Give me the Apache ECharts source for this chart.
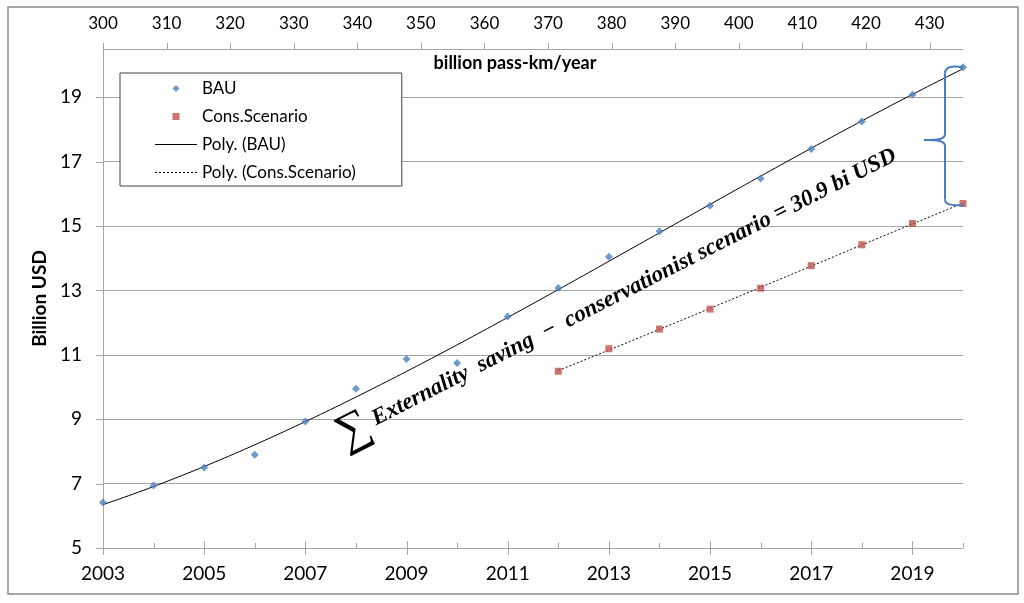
<!DOCTYPE html>
<html><head><meta charset="utf-8">
<script src="https://cdn.jsdelivr.net/npm/echarts/dist/echarts.min.js"></script>
<style>html,body{margin:0;padding:0;background:#fff}#c{width:1024px;height:603px}</style>
</head><body><div id="c"></div>
<script>
// ---- data ----
const years = [2003,2004,2005,2006,2007,2008,2009,2010,2011,2012,2013,2014,2015,2016,2017,2018,2019,2020];
const bau = [6.41,6.94,7.50,7.90,8.93,9.95,10.87,10.75,12.19,13.08,14.05,14.84,15.63,16.48,17.39,18.25,19.08,19.93];
const consYears = [2012,2013,2014,2015,2016,2017,2018,2019,2020];
const cons = [10.49,11.19,11.80,12.42,13.07,13.77,14.42,15.08,15.70];
const bottomTickLabels = ['2003','2005','2007','2009','2011','2013','2015','2017','2019'];
const topTickLabels = ['300','310','320','330','340','350','360','370','380','390','400','410','420','430'];
const yTickLabels = ['5','7','9','11','13','15','17','19'];
const seriesNames = ['BAU','Cons.Scenario','Poly. (BAU)','Poly. (Cons.Scenario)'];
const annotation = 'Externality  saving  \u2212  conservationist scenario = 30.9 bi USD';
const topAxisName = 'billion pass-km/year';
const yAxisName = 'Billion USD';
const topAxisMax = 435.26; // pass-km value at the right edge of the plot

// least-squares polynomial trendline (Excel "Poly." trendline) of a series
function polyFit(xs, ys, order) {
  const n = order + 1, x0 = xs[0];
  const M = [];
  for (let r = 0; r < n; r++) M.push(new Array(n + 1).fill(0));
  xs.forEach((x, i) => {
    const t = x - x0;
    for (let r = 0; r < n; r++) {
      for (let c = 0; c < n; c++) M[r][c] += Math.pow(t, r + c);
      M[r][n] += ys[i] * Math.pow(t, r);
    }
  });
  for (let i = 0; i < n; i++) {
    for (let j = i + 1; j < n; j++) {
      const f = M[j][i] / M[i][i];
      for (let k = i; k <= n; k++) M[j][k] -= f * M[i][k];
    }
  }
  const c = new Array(n).fill(0);
  for (let i = n - 1; i >= 0; i--) {
    let s = M[i][n];
    for (let k = i + 1; k < n; k++) s -= M[i][k] * c[k];
    c[i] = s / M[i][i];
  }
  const out = [];
  const first = xs[0], last = xs[xs.length - 1];
  for (let x = first; x <= last + 1e-9; x += 0.1) {
    const t = x - x0;
    let v = 0;
    for (let k = 0; k < n; k++) v += c[k] * Math.pow(t, k);
    out.push([+x.toFixed(2), v]);
  }
  return out;
}

function dottedIcon(w, dash, gap) {
  let d = '';
  for (let x = 0; x < w; x += dash + gap) {
    const e = Math.min(x + dash, w);
    d += `M${x},0 L${e},0 L${e},1 L${x},1 Z `;
  }
  return 'path://' + d.trim();
}

const FONT = 'Lato, "Open Sans", sans-serif';
const SERIF = '"Liberation Serif", "DejaVu Serif", serif';
const chart = echarts.init(document.getElementById('c'), null, {renderer: 'canvas'});
const gridColor = '#a6a6a6';

chart.setOption({
  animation: false,
  backgroundColor: '#fff',
  textStyle: {fontFamily: FONT},
  grid: {left: 103, right: 61, top: 49, bottom: 55},
  legend: {
    orient: 'vertical',
    left: 120, top: 73,
    padding: [6, 46, 4, 35],
    itemWidth: 42, itemHeight: 7, itemGap: 9,
    borderColor: '#404040', borderWidth: 1,
    backgroundColor: '#fff',
    textStyle: {fontFamily: FONT, fontSize: 17, color: '#000', lineHeight: 19},
    data: [
      {name: seriesNames[0], icon: 'path://M5,0 L10,5 L5,10 L0,5 Z'},
      {name: seriesNames[1], icon: 'path://M0,0 L10,0 L10,10 L0,10 Z'},
      {name: seriesNames[2], icon: 'path://M0,0 L42,0 L42,1 L0,1 Z', itemStyle: {color: '#000'}},
      {name: seriesNames[3], icon: dottedIcon(42, 2, 2), itemStyle: {color: '#000'}}
    ]
  },
  xAxis: [
    {
      type: 'value', min: 2003, max: 2020, interval: 1,
      axisLine: {onZero: false, lineStyle: {color: gridColor}},
      axisTick: {show: false},
      splitLine: {show: false},
      axisLabel: {
        margin: 16, fontSize: 19, color: '#000', fontFamily: FONT,
        formatter: v => bottomTickLabels.indexOf(String(v)) >= 0 ? String(v) : ''
      }
    },
    {
      type: 'value', position: 'top', min: 300, max: topAxisMax, interval: 10,
      axisLine: {onZero: false, lineStyle: {color: gridColor}},
      axisTick: {show: false},
      splitLine: {show: false},
      axisLabel: {
        margin: 17, fontSize: 17, color: '#000', fontFamily: FONT,
        showMaxLabel: false,
        formatter: v => topTickLabels.indexOf(String(v)) >= 0 ? String(v) : ''
      }
    }
  ],
  yAxis: {
    type: 'value', min: 5, max: 20.5, interval: 2,
    name: yAxisName, nameLocation: 'middle', nameGap: 48,
    nameTextStyle: {fontFamily: FONT, fontWeight: 'bold', fontSize: 19, color: '#000'},
    axisLine: {show: true, onZero: false, lineStyle: {color: gridColor}},
    axisTick: {show: false},
    splitLine: {show: true, lineStyle: {color: gridColor, width: 1}},
    axisLabel: {
      margin: 21, fontSize: 19, color: '#000', fontFamily: FONT,
      formatter: v => yTickLabels.indexOf(String(v)) >= 0 ? String(v) : ''
    }
  },
  series: [
    {
      name: seriesNames[0], type: 'scatter', xAxisIndex: 0,
      symbol: 'diamond', symbolSize: 8, z: 5,
      itemStyle: {color: '#4f81bd'},
      data: years.map((y, i) => [y, bau[i]])
    },
    {
      name: seriesNames[1], type: 'scatter', xAxisIndex: 0,
      symbol: 'rect', symbolSize: 7, z: 5,
      itemStyle: {color: '#c0504d'},
      data: consYears.map((y, i) => [y, cons[i]])
    },
    {
      name: seriesNames[2], type: 'line', xAxisIndex: 0,
      symbol: 'none', z: 3, silent: true,
      lineStyle: {color: '#000', width: 1, type: 'solid'},
      itemStyle: {color: '#000'},
      data: polyFit(years, bau, 3)
    },
    {
      name: seriesNames[3], type: 'line', xAxisIndex: 0,
      symbol: 'none', z: 3, silent: true,
      lineStyle: {color: '#000', width: 1, type: [2, 2]},
      itemStyle: {color: '#000'},
      data: polyFit(consYears, cons, 3)
    }
  ]
});

function decorate() {
  const g = [];
  const P = v => chart.convertToPixel({xAxisIndex: 0, yAxisIndex: 0}, v);
  const base = P([2003, 5]);
  const topY = P([2003, 20.5])[1];
  const tick = (x1, y1, x2, y2) => g.push({type: 'line', silent: true, z: 10,
    shape: {x1: x1, y1: y1, x2: x2, y2: y2}, style: {stroke: gridColor, lineWidth: 1}});
  // bottom axis ticks: labelled years cross the axis, the others are short and inside
  years.forEach(y => {
    const major = bottomTickLabels.indexOf(String(y)) >= 0;
    const x = Math.round(P([y, 5])[0]) + 0.5;
    tick(x, base[1] + (major ? 7 : 0), x, base[1] - (major ? 7 : 5));
  });
  // top axis ticks (outside, upward)
  topTickLabels.forEach(v => {
    const x = Math.round(chart.convertToPixel({xAxisIndex: 1}, +v)) + 0.5;
    tick(x, topY, x, topY - 6);
  });
  // left axis ticks (outside)
  yTickLabels.forEach(v => {
    const y = Math.round(P([2003, +v])[1]) + 0.5;
    tick(base[0] - 7, y, base[0], y);
  });
  // brace between the 2020 values
  const p1 = P([2020, bau[bau.length - 1]]);
  const p2 = P([2020, cons[cons.length - 1]]);
  const x0 = p1[0], bx = x0 - 18, tip = x0 - 39;
  const y1 = p1[1], y2 = p2[1] + 1, ym = y1 + 0.53 * (y2 - y1);
  const bs = {fill: null, stroke: '#4a7ebb', lineWidth: 2};
  const bz = (a, c1, c2, b) => ({type: 'bezierCurve', silent: true, z: 10,
    shape: {x1: a[0], y1: a[1], cpx1: c1[0], cpy1: c1[1], cpx2: c2[0], cpy2: c2[1], x2: b[0], y2: b[1]}, style: bs});
  const ln = (a, b) => ({type: 'line', silent: true, z: 10, shape: {x1: a[0], y1: a[1], x2: b[0], y2: b[1]}, style: bs});
  g.push(bz([x0, y1], [x0 - 10, y1 - 2], [bx, y1 - 1], [bx, y1 + 6]));
  g.push(ln([bx, y1 + 6], [bx, ym - 6]));
  g.push(bz([bx, ym - 6], [bx, ym - 1], [bx - 6, ym], [tip, ym]));
  g.push(bz([tip, ym], [bx - 6, ym], [bx, ym + 1], [bx, ym + 6]));
  g.push(ln([bx, ym + 6], [bx, y2 - 5]));
  g.push(bz([bx, y2 - 5], [bx, y2], [bx + 6, y2 + 1], [x0 + 1, y2 + 1]));
  // annotation
  g.push({type: 'text', silent: true, z: 10, x: 617, y: 296, rotation: 27 * Math.PI / 180,
    style: {
      text: '{s|\u2211}{t| ' + annotation + '}',
      align: 'center', verticalAlign: 'middle',
      rich: {
        s: {fontFamily: SERIF, fontSize: 46, fill: '#000'},
        t: {fontFamily: SERIF, fontStyle: 'italic', fontWeight: 'bold', fontSize: 23, fill: '#000'}
      }
    }});
  // top axis name
  g.push({type: 'text', silent: true, z: 10, x: 515, y: 63,
    style: {text: topAxisName, align: 'center', verticalAlign: 'middle', fontFamily: FONT, fontWeight: 'bold', fontSize: 18, fill: '#000'}});
  // outer frame
  g.push({type: 'rect', silent: true, z: 0, shape: {x: 8, y: 7, width: 1010, height: 587},
    style: {fill: null, stroke: '#8c8c8c', lineWidth: 1.5}});
  chart.setOption({graphic: g});
}
decorate();
</script>
</body></html>
